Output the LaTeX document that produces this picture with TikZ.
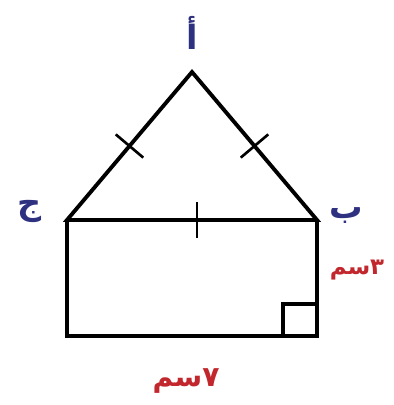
\documentclass[tikz,border=0pt]{standalone}
\usepackage{fontspec}
\usetikzlibrary{calc}
\TeXXeTstate=1
\newfontfamily\arabicfont[Script=Arabic]{DejaVu Sans}
\definecolor{lbl}{HTML}{2E3180}
\definecolor{msr}{HTML}{C1272D}
\newcommand{\ar}[1]{{\arabicfont\bfseries\beginR #1\endR}}
\tikzset{
  edge/.style={draw=black,line width=2.2pt,line join=miter},
  tick/.style={draw=black,line width=1.5pt},
  vlbl/.style={text=lbl,inner sep=0pt,font=\fontsize{19}{22}\selectfont},
  mlbl/.style={text=msr,inner sep=0pt,font=\fontsize{15}{18}\selectfont},
}

\begin{document}
\begin{tikzpicture}[x=0.02cm,y=-0.02cm]
\useasboundingbox (0,0) rectangle (394,405);
\coordinate (a) at (192,72);
\coordinate (c) at (67,220);
\coordinate (b) at (317,220);
\coordinate (d) at (67,336);
\coordinate (e) at (317,336);
% triangle and rectangle
\draw[edge] (c) -- (a) -- (b) -- cycle;
\draw[edge] (c) -- (d) -- (e) -- (b);
\draw[edge,line width=1.8pt] ($(e)+(-34,0)$) |- ($(e)+(0,-32)$);
% equal sides
\coordinate (mac) at ($(a)!0.5!(c)$);
\coordinate (mab) at ($(a)!0.5!(b)$);
\coordinate (mcb) at ($(c)!0.52!(b)$);
\draw[tick] ($(mac)!0.36cm!90:(a)$) -- ($(mac)!0.36cm!-90:(a)$);
\draw[tick] ($(mab)!0.36cm!90:(a)$) -- ($(mab)!0.36cm!-90:(a)$);
\draw[tick] ($(mcb)!0.36cm!90:(b)$) -- ($(mcb)!0.36cm!-90:(b)$);
% labels
\node[vlbl] (la) at (192,33) {\ar{أ}};
\node[vlbl] (lc) at (30,211) {\ar{ج}};
\node[vlbl] (lb) at (346,216) {\ar{ب}};
\node[mlbl,font=\fontsize{13}{16}\selectfont] (l3) at (357,270) {\ar{٣سم}};
\node[mlbl,font=\fontsize{16}{19}\selectfont] (l7) at (186,381) {\ar{٧سم}};
\end{tikzpicture}
\end{document}
